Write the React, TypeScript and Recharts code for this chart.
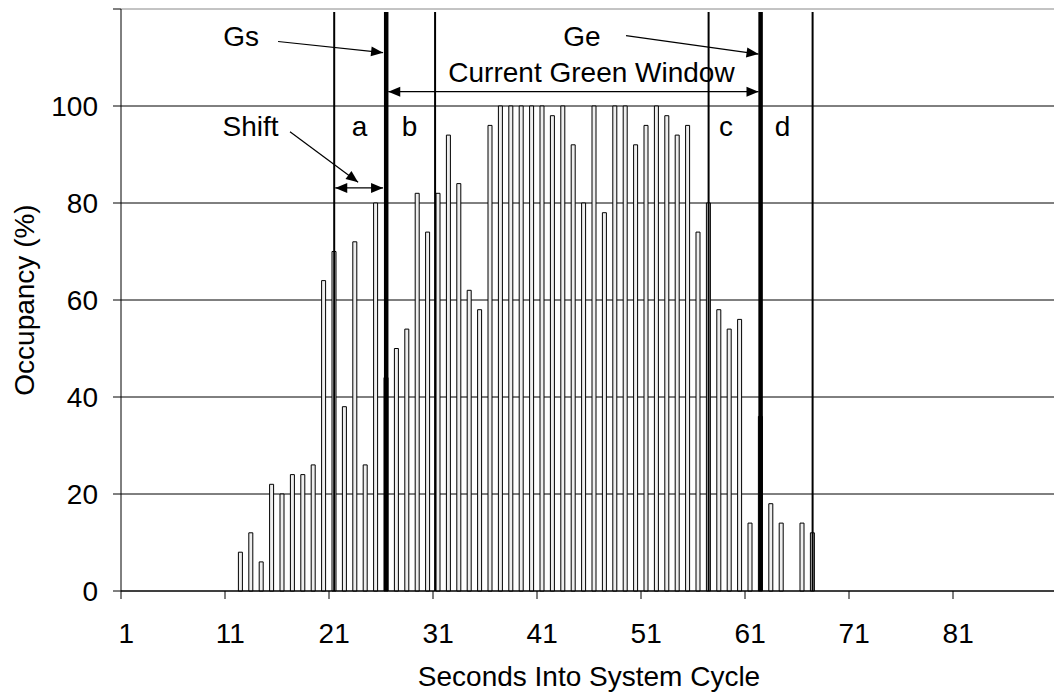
import {
  BarChart,
  Bar,
  XAxis,
  YAxis,
  CartesianGrid,
  ReferenceLine,
  ReferenceDot,
} from "recharts";

const FONT = "'Liberation Sans', Arial, Helvetica, sans-serif";
const FS = 28;

// ocupación por segundo del ciclo (1..90)
const occupancy = [
  0, 0, 0, 0, 0, 0, 0, 0, 0, 0, // 1-10
  0, 8, 12, 6, 22, 20, 24, 24, 26, 64, // 11-20
  70, 38, 72, 26, 80, 44, 50, 54, 82, 74, // 21-30
  82, 94, 84, 62, 58, 96, 100, 100, 100, 100, // 31-40
  100, 98, 100, 92, 80, 100, 78, 100, 100, 92, // 41-50
  96, 100, 98, 94, 96, 74, 80, 58, 54, 56, // 51-60
  14, 36, 18, 14, 0, 14, 12, 0, 0, 0, // 61-70
  0, 0, 0, 0, 0, 0, 0, 0, 0, 0, // 71-80
  0, 0, 0, 0, 0, 0, 0, 0, 0, 0, // 81-90
];
const seconds = occupancy.map((_, i) => i + 1);
const xTickBounds = [0.5, 10.5, 20.5, 30.5, 40.5, 50.5, 60.5, 70.5, 80.5];
const yTicks = [0, 20, 40, 60, 80, 100, 120];

// lineas verticales: [segundo, grosor]
const thinLines = [21, 30.7, 57, 67];
const thickLines = [26, 62];
const LINE_TOP = 119.4;

// textos: [texto, segundo, valor (linea base)]
const notes: [string, number, number][] = [
  ["Gs", 12.04, 112.45],
  ["Ge", 44.83, 112.45],
  ["Current Green Window", 45.74, 104.95],
  ["Shift", 12.95, 93.8],
  ["a", 23.43, 93.8],
  ["b", 28.24, 93.8],
  ["c", 58.67, 93.8],
  ["d", 64.1, 93.8],
];

// flechas: [x1, y1, x2, y2, cabeza al inicio]
const arrows: [number, number, number, number, boolean][] = [
  [15.6, 113.3, 25.7, 111.0, false],
  [49.06, 114.5, 61.8, 110.7, false],
  [16.75, 94.7, 23.3, 84.3, false],
  [26.2, 102.95, 61.8, 102.95, true],
  [21.1, 83.1, 25.7, 83.1, true],
];

const data = seconds.map((s, i) => ({ sec: s, occ: occupancy[i] }));

const CHART_W = 1060;
const CHART_H = 692;
const BAND = (CHART_W - 121 - 3) / seconds.length;

function head(x: number, y: number, a: number) {
  const L = 12;
  const w = 5;
  const bx = x - L * Math.cos(a);
  const by = y - L * Math.sin(a);
  return `${x},${y} ${bx - w * Math.sin(a)},${by + w * Math.cos(a)} ${bx + w * Math.sin(a)},${by - w * Math.cos(a)}`;
}

const arrowShape = (both: boolean) => (p: any) => {
  const { x1, y1, x2, y2 } = p;
  const a = Math.atan2(y2 - y1, x2 - x1);
  return (
    <g>
      <line x1={x1} y1={y1} x2={x2} y2={y2} stroke="#000" strokeWidth={1.2} />
      <polygon points={head(x2, y2, a)} fill="#000" />
      {both && <polygon points={head(x1, y1, a + Math.PI)} fill="#000" />}
    </g>
  );
};

const textShape = (label: string) => (p: any) => (
  <text x={p.cx} y={p.cy} textAnchor="middle" fontSize={FS} fontFamily={FONT} fill="#000">
    {label}
  </text>
);

function XTick(props: any) {
  const { x, y, payload } = props;
  return (
    <g>
      <line x1={x} x2={x} y1={y} y2={y + 8} stroke="#000" />
      <text x={x + BAND / 2} y={y + 52} textAnchor="middle" fontSize={FS} fontFamily={FONT} fill="#000">
        {payload.value + 0.5}
      </text>
    </g>
  );
}

export default function App() {
  return (
    <div
      style={{
        position: "absolute",
        left: 0,
        top: 0,
        width: 1054,
        height: 692,
        overflow: "hidden",
        background: "#fff",
      }}
    >
      <BarChart
        width={CHART_W}
        height={CHART_H}
        data={data}
        margin={{ top: 9, right: 3, bottom: 0, left: 0 }}
      >
        <CartesianGrid
          vertical={false}
          stroke="#000"
          horizontal={(p: any) => (
            <line
              key={p.key}
              x1={p.x1}
              x2={p.x2}
              y1={p.y1}
              y2={p.y2}
              stroke={p.y1 < 20 ? "#888" : "#000"}
              strokeWidth={1}
            />
          )}
        />
        <XAxis
          type="number"
          dataKey="sec"
          domain={[0.5, 90.5]}
          ticks={xTickBounds}
          interval={0}
          height={101}
          tickSize={0}
          tickMargin={0}
          tickLine={false}
          axisLine={{ stroke: "#000" }}
          tick={<XTick />}
          label={{
            content: () => (
              <text x={589} y={686} textAnchor="middle" fontSize={FS} fontFamily={FONT} fill="#000">
                Seconds Into System Cycle
              </text>
            ),
          }}
        />
        <YAxis
          type="number"
          domain={[0, 120]}
          ticks={yTicks}
          interval={0}
          width={121}
          tickSize={8}
          tickMargin={15}
          axisLine={{ stroke: "#000" }}
          tickLine={{ stroke: "#000" }}
          tick={{ fontSize: FS, fill: "#000", fontFamily: FONT }}
          tickFormatter={(v: number) => (v === 120 ? "" : String(v))}
          label={{
            content: () => (
              <text
                x={34}
                y={300}
                transform="rotate(-90 34 300)"
                textAnchor="middle"
                fontSize={FS}
                fontFamily={FONT}
                fill="#000"
              >
                Occupancy (%)
              </text>
            ),
          }}
        />
        <Bar
          dataKey="occ"
          barSize={4}
          fill="#eeeeee"
          stroke="#000"
          strokeWidth={1}
          isAnimationActive={false}
        />
        {thinLines.map((s) => (
          <ReferenceLine
            key={`t${s}`}
            segment={[
              { x: s, y: 0 },
              { x: s, y: LINE_TOP },
            ]}
            stroke="#000"
            strokeWidth={2}
          />
        ))}
        {thickLines.map((s) => (
          <ReferenceLine
            key={`g${s}`}
            segment={[
              { x: s, y: 0 },
              { x: s, y: LINE_TOP },
            ]}
            stroke="#000"
            strokeWidth={4.5}
          />
        ))}
        {arrows.map(([x1, y1, x2, y2, both], i) => (
          <ReferenceLine
            key={`a${i}`}
            segment={[
              { x: x1, y: y1 },
              { x: x2, y: y2 },
            ]}
            shape={arrowShape(both)}
          />
        ))}
        {notes.map(([label, x, y]) => (
          <ReferenceDot key={label} x={x} y={y} r={1} shape={textShape(label)} />
        ))}
      </BarChart>
    </div>
  );
}
